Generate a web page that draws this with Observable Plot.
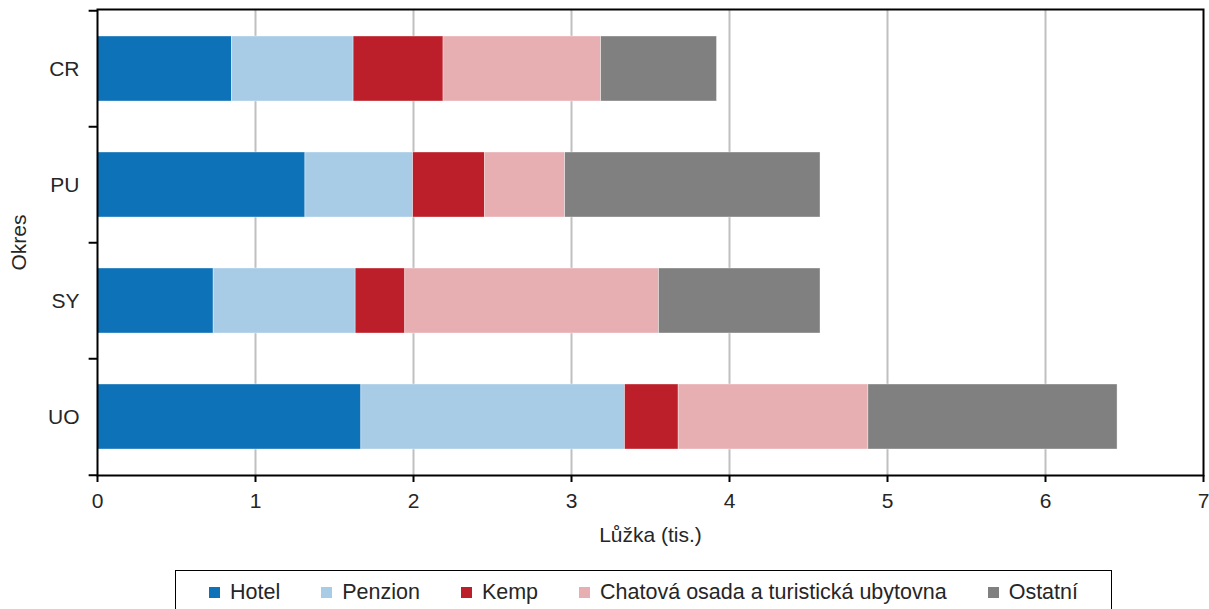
<!DOCTYPE html>
<html>
<head>
<meta charset="utf-8">
<script src="https://cdn.jsdelivr.net/npm/d3@7"></script>
<script src="https://cdn.jsdelivr.net/npm/@observablehq/plot@0.6"></script>
<style>
  body { margin: 0; background: #fff; font-family: "Liberation Sans", Arial, sans-serif; }
  #chart svg { display: block; }
  #legend {
    margin-left: 175px; margin-top: 5px; width: 937px; height: 44px;
    border: 1.5px solid #000; box-sizing: border-box;
    display: flex; align-items: center; justify-content: center; gap: 41px;
    font-size: 21.5px; color: #262626;
  }
  .item { display: flex; align-items: center; gap: 10px; }
  .sw { width: 11px; height: 11px; display: inline-block; }
</style>
</head>
<body>
<div id="chart"></div>
<div id="legend"></div>
<script>
const categories = ["CR", "PU", "SY", "UO"];
const series = ["Hotel", "Penzion", "Kemp", "Chatová osada a turistická ubytovna", "Ostatní"];
const colors = ["#0e72b8", "#a8cce6", "#bc1f29", "#e7afb2", "#808080"];
const hotel   = [0.850, 1.316, 0.735, 1.670];
const penzion = [0.771, 0.682, 0.899, 1.669];
const kemp    = [0.569, 0.455, 0.314, 0.339];
const chatova = [0.998, 0.507, 1.606, 1.201];
const ostatni = [0.733, 1.616, 1.022, 1.577];
const xTicks = [0, 1, 2, 3, 4, 5, 6, 7];

const valuesBySeries = [hotel, penzion, kemp, chatova, ostatni];
const data = [];
categories.forEach((c, i) => {
  series.forEach((s, j) => data.push({okres: c, typ: s, value: valuesBySeries[j][i]}));
});

const W = 1209, H = 565, mT = 9, mB = 90, mL = 97, mR = 6;
const step = (H - mT - mB) / categories.length;
const textColor = "#262626";

const chart = Plot.plot({
  width: W, height: H,
  marginTop: mT, marginBottom: mB, marginLeft: mL, marginRight: mR,
  style: {fontFamily: "'Liberation Sans', Arial, sans-serif", fontSize: "21px", color: textColor, background: "#fff"},
  x: {domain: [0, 7], ticks: xTicks},
  y: {domain: categories, paddingInner: 0.44, paddingOuter: 0.22},
  color: {domain: series, range: colors},
  marks: [
    Plot.ruleX(xTicks.slice(1, -1), {stroke: "#c0c0c0", strokeWidth: 2}),
    Plot.barX(data, Plot.stackX({x: "value", y: "okres", fill: "typ", order: series, stroke: "#ffffff", strokeWidth: 0.6, strokeOpacity: 0.6})),
    Plot.frame({stroke: "#000", strokeWidth: 2}),
    Plot.ruleY(categories, {y: d => d, dy: -step / 2, x1: -0.053, x2: 0, stroke: "#000", strokeWidth: 2}),
    Plot.ruleY(categories.slice(-1), {y: d => d, dy: step / 2, x1: -0.053, x2: 0, stroke: "#000", strokeWidth: 2}),
    Plot.axisX({ticks: xTicks, tickSize: 7, tickPadding: 11, tickFormat: d => String(d), fontSize: 21, stroke: "#000", strokeWidth: 2,
      label: "Lůžka (tis.)", labelAnchor: "center", labelArrow: "none", labelOffset: 66}),
    Plot.axisY({tickSize: 0, tickPadding: 18, fontSize: 21, label: "Okres", labelAnchor: "center", labelArrow: "none", labelOffset: 86})
  ]
});
document.getElementById("chart").appendChild(chart);

const legend = document.getElementById("legend");
series.forEach((s, j) => {
  const it = document.createElement("div");
  it.className = "item";
  const sw = document.createElement("span");
  sw.className = "sw";
  sw.style.background = colors[j];
  const t = document.createElement("span");
  t.textContent = s;
  it.appendChild(sw); it.appendChild(t);
  legend.appendChild(it);
});
</script>
</body>
</html>
